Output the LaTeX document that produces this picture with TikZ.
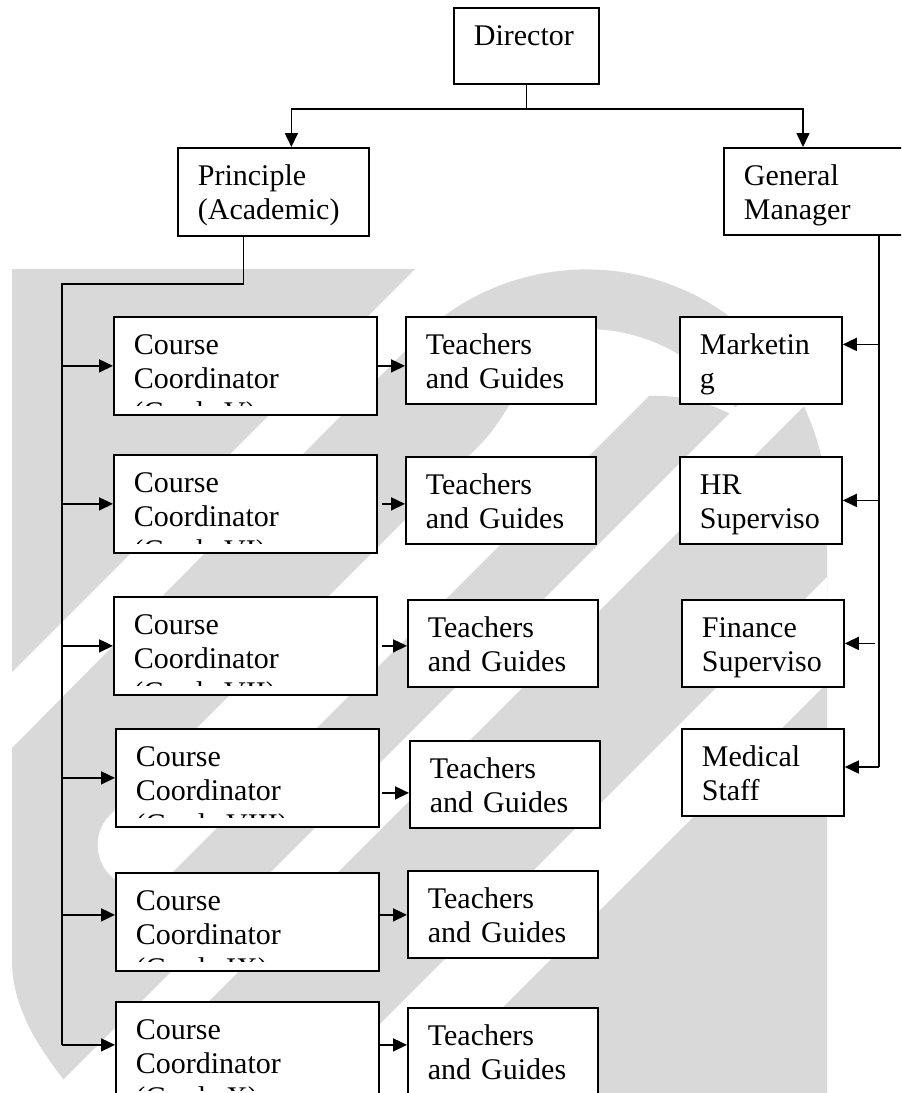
\documentclass[tikz,border=0pt]{standalone}
\usepackage{fontspec}
\setmainfont{Liberation Serif}
\usepackage{tikz}
\usetikzlibrary{arrows.meta}

\definecolor{wmgray}{gray}{0.85}
\newcommand{\boxfont}{\fontsize{15}{17}\selectfont}
% third line of a course box, cut off by the box
\newcommand{\gradeline}[3]{%
  \begin{scope}
    \clip ([yshift=5pt]#1.south west) rectangle (#1.north east);
    \node[anchor=base west, inner sep=0pt, font=\boxfont] (#2) at ([xshift=10pt,yshift=-53pt]#1.north west) {#3};
  \end{scope}}

\tikzset{
  orgbox/.style={draw, line width=0.9pt, fill=white, rectangle, anchor=north west,
    align=left, inner xsep=10pt, inner ysep=0pt, font=\boxfont, text height=19pt},
  ccbox/.style={orgbox, text width=111.5pt, text depth=30pt},
  tgbox/.style={orgbox, text width=75pt, text depth=24.5pt},
  rtbox/.style={orgbox, text width=61pt, text depth=24.5pt},
  link/.style={line width=0.8pt},
  arr/.style={line width=0.8pt, -{Triangle[length=7pt,width=6.5pt]}},
}

\begin{document}
\begin{tikzpicture}[x=0.5pt,y=-0.5pt]

        \useasboundingbox (0,0) rectangle (901,1093);
        \clip (0,0) rectangle (901,1093);

        % faint logo behind the chart
        \begin{scope}
          \clip (12,269) rectangle (827,1093);
          \fill[wmgray] (12,269) -- (415,269) -- (12,672) -- cycle;
          \begin{scope}
            \clip (12,748) -- (416,340) arc[start angle=-135, end angle=0, radius=241]
              -- (827,1093) -- (75,1093) .. controls (30,1040) and (12,1000) .. (12,960) -- cycle;
            \fill[wmgray] (0,0) rectangle (901,1093);
            % gap between the two strokes
            \fill[white] (110,815) -- (480,445) .. controls (520,405) and (536,329) .. (586,329)
              arc[start angle=-90, end angle=0, radius=181] -- (767,600) -- (445,600) -- (170,875)
              arc[start angle=45, end angle=225, radius=42.4] -- cycle;
            % inner stroke
            \fill[wmgray] (-48,1093) -- (649,396) arc[start angle=-92.5, end angle=0, radius=161]
              -- (827,557) -- (827,1093) -- cycle;
          \end{scope}
          % white slashes
          \fill[white] (874,269) -- (941,269) -- (117,1093) -- (50,1093) -- cycle;
          \fill[white] (1135,269) -- (1241,269) -- (417,1093) -- (311,1093) -- cycle;
        \end{scope}

        % top of the chart
        \node[orgbox, text width=52.5pt, text depth=19pt] (dir) at (453,7) {Director};
        \node[orgbox, text width=75.5pt, text depth=25pt] (prin) at (177,147) {Principle\\(Academic)};
        \node[orgbox, text width=80pt, text depth=24.5pt] (gm) at (723,147) {General\\Manager};

        % course coordinators
        \node[ccbox] (cc1) at (113,316) {Course\\Coordinator};
        \node[ccbox] (cc2) at (113,454) {Course\\Coordinator};
        \node[ccbox] (cc3) at (113,596) {Course\\Coordinator};
        \node[ccbox] (cc4) at (115,728) {Course\\Coordinator};
        \node[ccbox] (cc5) at (115,872) {Course\\Coordinator};
        \node[ccbox] (cc6) at (115,1001) {Course\\Coordinator};
        \gradeline{cc1}{gr1}{(Grade V)}
        \gradeline{cc2}{gr2}{(Grade VI)}
        \gradeline{cc3}{gr3}{(Grade VII)}
        \gradeline{cc4}{gr4}{(Grade VIII)}
        \gradeline{cc5}{gr5}{(Grade IX)}
        \gradeline{cc6}{gr6}{(Grade X)}

        % teachers and guides
        \node[tgbox] (tg1) at (405,316) {Teachers\\and Guides};
        \node[tgbox] (tg2) at (405,456) {Teachers\\and Guides};
        \node[tgbox] (tg3) at (407,599) {Teachers\\and Guides};
        \node[tgbox] (tg4) at (409,740) {Teachers\\and Guides};
        \node[tgbox] (tg5) at (407,870) {Teachers\\and Guides};
        \node[tgbox] (tg6) at (407,1007) {Teachers\\and Guides};

        % staff under the general manager
        \node[rtbox] (mkt) at (679,316) {Marketin\\g};
        \node[rtbox] (hr) at (679,456) {HR\\Superviso};
        \node[rtbox] (fin) at (681,599) {Finance\\Superviso};
        \node[rtbox] (med) at (681,728) {Medical\\Staff};

        % director down to the two heads
        \coordinate (split) at ([yshift=-12pt]dir.south);
        \draw[link] (dir.south) -- (split);
        \draw[arr] (split) -| ([xshift=9pt]prin.north);
        \draw[arr] (split) -| ([xshift=40pt]gm.north west);

        % principle down the left bus
        \coordinate (bustop) at (62,284);
        \draw[link] ([xshift=-15pt]prin.south) |- (bustop) -- ([yshift=3pt]cc6.west -| bustop);
        \draw[arr] (bustop |- cc1.west) -- (cc1.west);
        \draw[arr] (bustop |- cc2.west) -- (cc2.west);
        \draw[arr] (bustop |- cc3.west) -- (cc3.west);
        \draw[arr] (bustop |- cc4.west) -- (cc4.west);
        \draw[arr] ([yshift=3.5pt]cc5.west -| bustop) -- ([yshift=3.5pt]cc5.west);
        \draw[arr] ([yshift=3pt]cc6.west -| bustop) -- ([yshift=3pt]cc6.west);

        % coordinators to their teachers
        \draw[arr] (cc1.east) -- (cc1.east -| tg1.west);
        \draw[arr] ([xshift=2pt]cc2.east) -- (cc2.east -| tg2.west);
        \draw[arr] ([xshift=2pt]cc3.east) -- (cc3.east -| tg3.west);
        \draw[arr] ([xshift=1pt,yshift=-7.5pt]cc4.east) -- ([yshift=-7.5pt]cc4.east -| tg4.west);
        \draw[arr] ([yshift=3.5pt]cc5.east) -- ([yshift=3.5pt]cc5.east -| tg5.west);
        \draw[arr] ([yshift=3pt]cc6.east) -- ([yshift=3pt]cc6.east -| tg6.west);

        % general manager down the right bus
        \coordinate (gmend) at (879,767);
        \draw[link] (gm.south -| gmend) -- (gmend);
        \draw[arr] ([yshift=8pt]mkt.east -| gmend) -- ([yshift=8pt]mkt.east);
        \draw[arr] (hr.east -| gmend) -- (hr.east);
        \draw[arr] ([xshift=-2pt]fin.east -| gmend) -- (fin.east);
        \draw[arr] (gmend) -- (gmend -| med.east);
    \end{tikzpicture}
\end{document}
